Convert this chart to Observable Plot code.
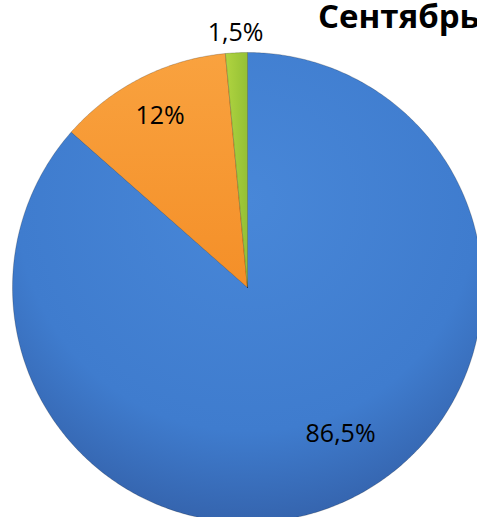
<!DOCTYPE html>
<html><head><meta charset="utf-8">
<script src="https://cdn.jsdelivr.net/npm/d3@7"></script>
<script src="https://cdn.jsdelivr.net/npm/@observablehq/plot@0.6"></script>
<style>
body{margin:0;background:#fff;}
#wrap{position:relative;width:477px;height:517px;overflow:hidden;}
#title{position:absolute;left:318px;top:-1px;font-family:"Open Sans",sans-serif;font-weight:700;font-size:33px;line-height:1;white-space:nowrap;color:#000;margin:0;}
</style></head>
<body><div id="wrap"><div id="chart"></div><div id="title">Сентябрь</div></div>
<script>
const categories = ["A", "B", "C"];
const values = [86.5, 12, 1.5];
const labels = ["86,5%", "12%", "1,5%"];
const colors = ["url(#gBlue)", "url(#gOrange)", "url(#gGreen)"];

// label placement (layout): radius factor and angle shift in degrees
const labelR = [0.737, 0.82, 1.085];
const labelShift = [-8.2, 0, 0];

const total = d3.sum(values);
let acc = 0;
const slices = values.map((v, i) => {
  const a0 = acc / total * 2 * Math.PI;
  acc += v;
  const a1 = acc / total * 2 * Math.PI;
  return {cat: categories[i], v, a0, a1, label: labels[i]};
});
const pts = [];
for (const s of slices) {
  pts.push({cat: s.cat, x: 0, y: 0});
  const n = Math.max(4, Math.ceil((s.a1 - s.a0) / 0.01));
  for (let k = 0; k <= n; k++) {
    const a = s.a0 + (s.a1 - s.a0) * k / n;
    pts.push({cat: s.cat, x: Math.sin(a), y: Math.cos(a)});
  }
  pts.push({cat: s.cat, x: 0, y: 0});
}
const labelPts = slices.map((s, i) => {
  const m = (s.a0 + s.a1) / 2 + labelShift[i] * Math.PI / 180;
  return {label: s.label, x: Math.sin(m) * labelR[i], y: Math.cos(m) * labelR[i]};
});

const W = 477, H = 517, cx = 247, cy = 287, R = 235;
const chart = Plot.plot({
  width: W, height: H, margin: 0,
  x: {domain: [-cx / R, (W - cx) / R], axis: null},
  y: {domain: [-(H - cy) / R, cy / R], axis: null},
  color: {domain: categories, range: colors},
  marks: [
    Plot.line(pts, {x: "x", y: "y", z: "cat", fill: "cat", stroke: "#00000033", strokeWidth: 1, curve: "linear"}),
    Plot.text(labelPts, {x: "x", y: "y", text: "label", fontSize: 25, fill: "#000", fontFamily: "Open Sans, sans-serif"})
  ]
});
const defs = `<defs>
<radialGradient id="gBlue" gradientUnits="userSpaceOnUse" cx="247" cy="200" r="330">
<stop offset="0" stop-color="#4887d8"/><stop offset="0.7" stop-color="#3f7cce"/><stop offset="1" stop-color="#3462ab"/></radialGradient>
<linearGradient id="gOrange" x1="0" y1="0" x2="0" y2="1"><stop offset="0" stop-color="#f9a23f"/><stop offset="1" stop-color="#f48f28"/></linearGradient>
<linearGradient id="gGreen" x1="0" y1="0" x2="1" y2="0"><stop offset="0" stop-color="#b0d440"/><stop offset="1" stop-color="#94c035"/></linearGradient>
</defs>`;
chart.insertAdjacentHTML("afterbegin", defs);
document.getElementById("chart").appendChild(chart);
</script>
</body></html>
